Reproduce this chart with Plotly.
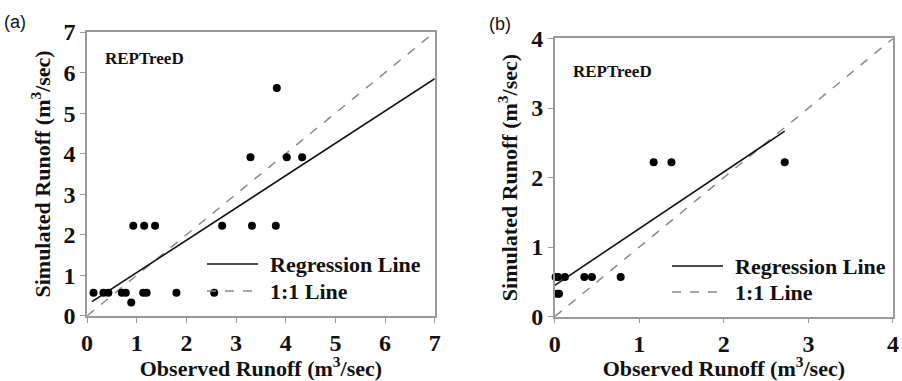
import plotly.graph_objects as go

# Panel (a) data
obs_a = [3.82, 3.29, 4.02, 4.33, 0.93, 1.15, 1.37, 2.72, 3.32, 3.80,
         0.13, 0.33, 0.43, 0.70, 0.78, 1.13, 1.20, 1.80, 2.56, 0.89]
sim_a = [5.62, 3.91, 3.91, 3.91, 2.22, 2.22, 2.22, 2.22, 2.22, 2.22,
         0.57, 0.57, 0.57, 0.57, 0.57, 0.57, 0.57, 0.57, 0.57, 0.33]
reg_a_slope, reg_a_intercept = 0.797, 0.27
reg_a_x = [0.1, 7.0]
one_a = [0, 7]

# Panel (b) data
obs_b = [1.17, 1.38, 2.72, 0.01, 0.04, 0.12, 0.35, 0.44, 0.78, 0.03, 0.05]
sim_b = [2.22, 2.22, 2.22, 0.57, 0.57, 0.57, 0.57, 0.57, 0.57, 0.33, 0.33]
reg_b_slope, reg_b_intercept = 0.815, 0.45
reg_b_x = [0.0, 2.72]
one_b = [0, 4]

ticks_a = [0, 1, 2, 3, 4, 5, 6, 7]
ticks_b = [0, 1, 2, 3, 4]

SERIF = "Liberation Serif"
fig = go.Figure()

def panel(xs, ys, rx, slope, icpt, one, xa, ya):
    fig.add_trace(go.Scatter(x=one, y=one, mode="lines", xaxis=xa, yaxis=ya,
                             line=dict(color="#8a8a8a", width=1.5, dash="dash"),
                             showlegend=False, cliponaxis=False))
    fig.add_trace(go.Scatter(x=rx, y=[slope * v + icpt for v in rx], mode="lines",
                             xaxis=xa, yaxis=ya, line=dict(color="#111", width=1.6),
                             showlegend=False))
    fig.add_trace(go.Scatter(x=xs, y=ys, mode="markers", xaxis=xa, yaxis=ya,
                             marker=dict(color="#000", size=8), showlegend=False,
                             cliponaxis=False))

panel(obs_a, sim_a, reg_a_x, reg_a_slope, reg_a_intercept, one_a, "x", "y")
panel(obs_b, sim_b, reg_b_x, reg_b_slope, reg_b_intercept, one_b, "x2", "y2")

axcommon = dict(showgrid=False, zeroline=False, showline=True, mirror=True,
                automargin=False,
                linecolor="#9a9a9a", linewidth=1.5, ticks="outside", ticklen=5,
                tickcolor="#9a9a9a",
                tickfont=dict(family=SERIF, size=24, color="#111", weight=700))
title_x = dict(text="Observed Runoff (m<sup>3</sup>/sec)",
               font=dict(family=SERIF, size=22, color="#111", weight="bold"), standoff=3)
title_y = dict(text="Simulated Runoff (m<sup>3</sup>/sec)",
               font=dict(family=SERIF, size=22, color="#111", weight="bold"), standoff=7)

fig.update_layout(
    template="none",
    font=dict(family=SERIF, size=22, color="#111", weight="bold"),
    width=902, height=381, margin=dict(l=0, r=0, t=0, b=0, pad=0),
    paper_bgcolor="white", plot_bgcolor="white", showlegend=False,
    xaxis=dict(domain=[0.0965, 0.482], range=[0, 7], tickvals=ticks_a,
               title=title_x, anchor="y", **axcommon),
    yaxis=dict(domain=[0.171, 0.916], range=[0, 7], tickvals=ticks_a,
               title=title_y, anchor="x", **axcommon),
    xaxis2=dict(domain=[0.615, 0.99], range=[0, 4], tickvals=ticks_b,
                title=title_x, anchor="y2", **axcommon),
    yaxis2=dict(domain=[0.169, 0.899], range=[0, 4], tickvals=ticks_b,
                title=title_y, anchor="x2", **axcommon),
)

ann = []
ann.append(dict(text="(a)", x=2 / 902, y=1 - 22 / 381, xref="paper", yref="paper",
                xanchor="left", yanchor="middle", showarrow=False,
                font=dict(family="Liberation Sans", size=18, color="#111", weight="normal")))
ann.append(dict(text="(b)", x=487 / 902, y=1 - 24 / 381, xref="paper", yref="paper",
                xanchor="left", yanchor="middle", showarrow=False,
                font=dict(family="Liberation Sans", size=18, color="#111", weight="normal")))
ann.append(dict(text="REPTreeD", x=103 / 902, y=1 - 59 / 381, xref="paper", yref="paper",
                xanchor="left", yanchor="middle", showarrow=False,
                font=dict(family=SERIF, size=17, color="#111", weight="bold")))
ann.append(dict(text="REPTreeD", x=571 / 902, y=1 - 71 / 381, xref="paper", yref="paper",
                xanchor="left", yanchor="middle", showarrow=False,
                font=dict(family=SERIF, size=17, color="#111", weight="bold")))

shapes = []
legends = [((207, 258, 268), (264, 291)), ((672, 723, 733), (266, 292))]
for (x0, x1, xt), (y1, y2) in legends:
    shapes.append(dict(type="line", xref="paper", yref="paper", x0=x0 / 902, x1=x1 / 902,
                       y0=1 - y1 / 381, y1=1 - y1 / 381, line=dict(color="#111", width=1.6)))
    shapes.append(dict(type="line", xref="paper", yref="paper", x0=x0 / 902, x1=x1 / 902,
                       y0=1 - y2 / 381, y1=1 - y2 / 381,
                       line=dict(color="#8a8a8a", width=1.5, dash="dash")))
    ann.append(dict(text="Regression Line", x=xt / 902, y=1 - y1 / 381, xref="paper",
                    yref="paper", xanchor="left", yanchor="middle", showarrow=False,
                    font=dict(family=SERIF, size=22, color="#111", weight="bold")))
    ann.append(dict(text="1:1 Line", x=xt / 902, y=1 - y2 / 381, xref="paper",
                    yref="paper", xanchor="left", yanchor="middle", showarrow=False,
                    font=dict(family=SERIF, size=22, color="#111", weight="bold")))

fig.update_layout(annotations=ann, shapes=shapes)
fig.write_html("out.html", config={"displayModeBar": False},
               post_script="document.body.style.margin='0';")
